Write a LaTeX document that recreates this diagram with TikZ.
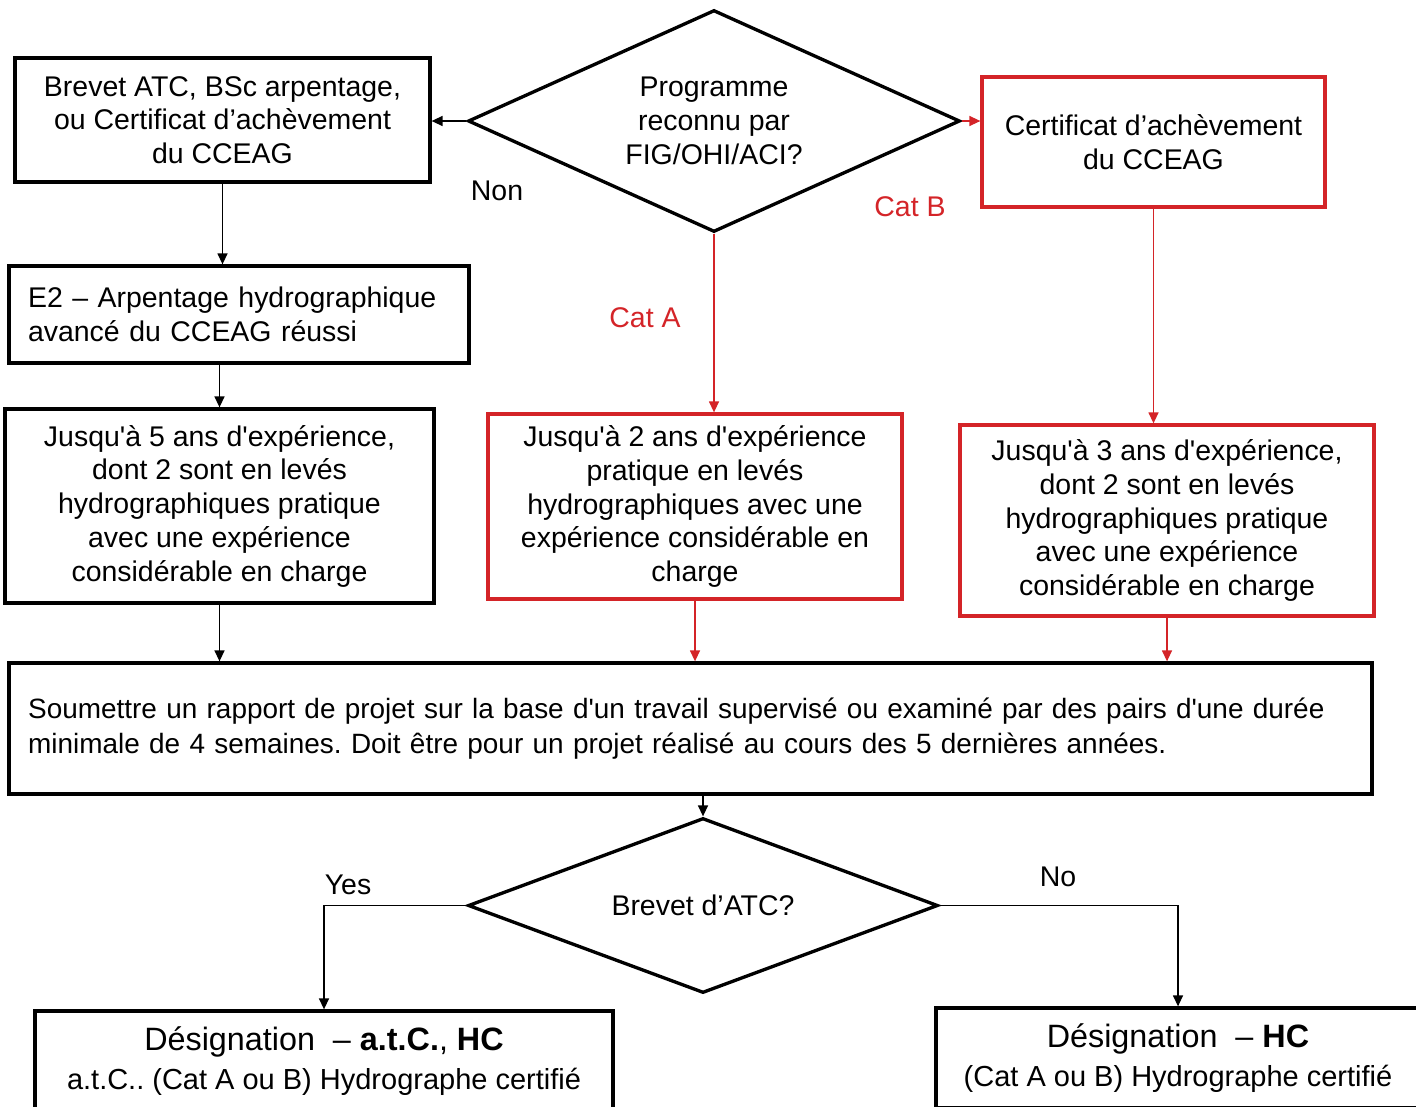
\documentclass[tikz,border=0pt]{standalone}
\usepackage{fontspec}
\setmainfont{Liberation Sans}[Ligatures=TeXOff]
\usetikzlibrary{arrows.meta,shapes.geometric}
\definecolor{catred}{RGB}{212,36,40}
\frenchspacing

\begin{document}
\begin{tikzpicture}[x=0.02cm,y=-0.02cm,
  box/.style={draw,line width=1.9pt,inner sep=0pt,align=center,
    font=\fontsize{16.2}{19.2}\selectfont},
  redbox/.style={box,draw=catred},
  decision/.style={box,diamond},
  link/.style={-{Triangle[length=2.2mm,width=2mm]},line width=0.8pt},
  redlink/.style={link,draw=catred,fill=catred},
  lbl/.style={font=\fontsize{16.2}{19.2}\selectfont}]
\useasboundingbox (0,0) rectangle (1416,1106);
\clip (0,0) rectangle (1416,1106);
% left column
\node[box,minimum width=8.3cm,minimum height=2.48cm] (atc) at (222.5,120)
  {Brevet ATC, BSc arpentage,\\ou Certificat d’achèvement\\du CCEAG};
\node[box,minimum width=9.2cm,minimum height=1.94cm,inner xsep=0.38cm,
  text width=8.44cm,align=left] (adv) at (239,314.5)
  {E2 – Arpentage hydrographique\\avancé du CCEAG réussi};
\node[box,minimum width=8.58cm,minimum height=3.88cm] (exp5) at (219.5,506)
  {Jusqu'à 5 ans d'expérience,\\dont 2 sont en levés\\hydrographiques pratique\\avec une expérience\\considérable en charge};
% decision and red column
\node[decision,aspect=2.2,minimum width=9.84cm,minimum height=4.44cm] (prog) at (714,121)
  {Programme\\reconnu par\\FIG/OHI/ACI?};
\node[redbox,minimum width=6.86cm,minimum height=2.6cm] (certif) at (1153.5,142)
  {Certificat d’achèvement\\du CCEAG};
\node[redbox,minimum width=8.28cm,minimum height=3.7cm] (exp2) at (695,506.5)
  {Jusqu'à 2 ans d'expérience\\pratique en levés\\hydrographiques avec une\\expérience considérable en\\charge};
\node[redbox,minimum width=8.28cm,minimum height=3.82cm] (exp3) at (1167,520.5)
  {Jusqu'à 3 ans d'expérience,\\dont 2 sont en levés\\hydrographiques pratique\\avec une expérience\\considérable en charge};
% report
\node[box,minimum width=27.26cm,minimum height=2.62cm,inner xsep=0.38cm,
  text width=26.5cm,align=left,font=\fontsize{15.9}{19.5}\selectfont] (report) at (690.5,728.5)
  {Soumettre un rapport de projet sur la base d'un travail supervisé ou examiné par des pairs d'une durée\\minimale de 4 semaines. Doit être pour un projet réalisé au cours des 5 dernières années.};
\node[decision,aspect=2.7,minimum width=9.4cm,minimum height=3.5cm] (brevet) at (703,905.5)
  {Brevet d’ATC?};
% designations
\node[box,minimum width=11.56cm,minimum height=2.0cm,
  font=\fontsize{16.5}{22}\selectfont] (desigA) at (324,1061)
  {{\fontsize{18.4}{22}\selectfont Désignation\ \ – \textbf{a.t.C.}, \textbf{HC}}\\a.t.C.. (Cat A ou B) Hydrographe certifié};
\node[box,minimum width=9.68cm,minimum height=2.0cm,
  font=\fontsize{16.5}{22}\selectfont] (desigB) at (1178,1058)
  {{\fontsize{18.4}{22}\selectfont Désignation\ \ – \textbf{HC}}\\(Cat A ou B) Hydrographe certifié};
% labels
\node[lbl] (non) at (497,191) {Non};
\node[lbl,text=catred] (catb) at (910,207) {Cat B};
\node[lbl,text=catred] (cata) at (645,318) {Cat A};
\node[lbl] (yes) at (348,885) {Yes};
\node[lbl] (no) at (1058,877) {No};
% connectors
\draw[link] (prog.west) -- (prog.west -| atc.east);
\draw[redlink] (prog.east) -- (prog.east -| certif.west);
\draw[redlink] (prog.south) -- (prog.south |- exp2.north);
\draw[link] (atc.south) -- (atc.south |- adv.north);
\draw[link] (adv.south -| exp5.north) -- (exp5.north);
\draw[link] (exp5.south) -- (exp5.south |- report.north);
\draw[redlink] (certif.south) -- (certif.south |- exp3.north);
\draw[redlink] (exp2.south) -- (exp2.south |- report.north);
\draw[redlink] (exp3.south) -- (exp3.south |- report.north);
\draw[link] (report.south -| brevet.north) -- (brevet.north);
\draw[link] (brevet.west) -| (desigA.north);
\draw[link] (brevet.east) -| (desigB.north);
\end{tikzpicture}
\end{document}
